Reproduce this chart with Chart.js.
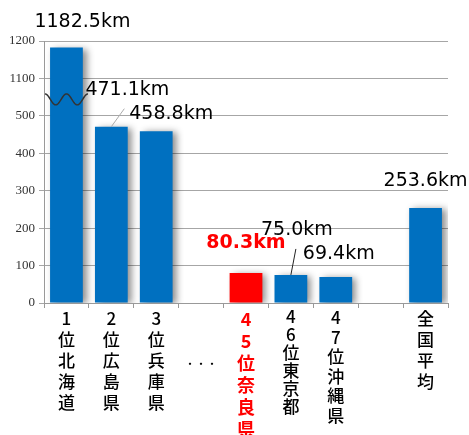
<!DOCTYPE html>
<html>
<head>
<meta charset="utf-8">
<script src="https://cdn.jsdelivr.net/npm/chart.js@4.4.1/dist/chart.umd.min.js"></script>
<style>
  html, body { margin: 0; padding: 0; background: #fff; }
  canvas { display: block; }
</style>
</head>
<body>
<canvas id="graphCanvas" width="469" height="435"></canvas>
<script>
// 順位と都道府県名 (空欄は省略部分と区切り)
var ranks = ['1位', '2位', '3位', '', '45位', '46位', '47位', '', ''];
var prefs = ['北海道', '広島県', '兵庫県', '', '奈良県', '東京都', '沖縄県', '', '全国平均'];
var distances = [1182.5, 471.1, 458.8, null, 80.3, 75.0, 69.4, null, 253.6];
var yTicks = [0, 100, 200, 300, 400, 500, 1100, 1200];
var gapMark = '・・・';
var gapIndex = 3;
var naraIndex = 4;

// 500〜1100 を省略した軸
function toAxis(v) {
    if (v === null) return null;
    return v > 600 ? v - 500 : v;
}

// 縦書き: 1文字ずつ改行
var labels = ranks.map(function (r, i) {
    if (i === gapIndex) return ['', '', '', gapMark];
    var s = r + prefs[i];
    return s ? s.split('') : '';
});

var BLUE = '#0070C0';
var RED = '#FF0000';
var colors = distances.map(function (v, i) { return i === naraIndex ? RED : BLUE; });

// ラベル位置 (棒の上端からのずれ)
var labelOffsets = {
    0: [16, -25], 1: [16, -37], 2: [15, -17],
    4: [0, -30], 5: [6, -45], 6: [3, -23], 8: [0, -27]
};
// 引き出し線
var leaders = {
    1: { from: [0, 0], to: [13, -18], color: '#aaa' },
    5: { from: [0, 0], to: [5, -26], color: '#222' }
};

var barShadow = {
    id: 'barShadow',
    beforeDatasetsDraw: function (chart) {
        var c = chart.ctx;
        c.save();
        c.shadowColor = 'rgba(0,0,0,0.45)';
        c.shadowBlur = 7;
        c.shadowOffsetX = 4;
        c.shadowOffsetY = 1;
    },
    afterDatasetsDraw: function (chart) {
        chart.ctx.restore();
    }
};

// 軸の省略記号 (波線)
var axisBreak = {
    id: 'axisBreak',
    afterDatasetsDraw: function (chart) {
        var c = chart.ctx;
        var y = chart.scales.y.getPixelForValue(544);
        var x0 = chart.chartArea.left + 1;
        var w = 43, amp = 5.5, period = 21.5;
        c.save();
        c.strokeStyle = '#333';
        c.lineWidth = 1.5;
        c.beginPath();
        for (var dx = 0; dx <= w; dx += 0.5) {
            var yy = y - amp * Math.cos(2 * Math.PI * dx / period);
            if (dx === 0) c.moveTo(x0 + dx, yy); else c.lineTo(x0 + dx, yy);
        }
        c.stroke();
        c.restore();
    }
};

var valueLabels = {
    id: 'valueLabels',
    afterDraw: function (chart) {
        var c = chart.ctx;
        var bars = chart.getDatasetMeta(0).data;
        c.save();
        c.textAlign = 'center';
        c.textBaseline = 'middle';
        distances.forEach(function (v, i) {
            if (v === null) return;
            var bar = bars[i];
            var off = labelOffsets[i];
            var ln = leaders[i];
            if (ln) {
                c.strokeStyle = ln.color;
                c.lineWidth = 1;
                c.beginPath();
                c.moveTo(bar.x + ln.from[0], bar.y + ln.from[1]);
                c.lineTo(bar.x + ln.to[0], bar.y + ln.to[1]);
                c.stroke();
            }
            if (i === naraIndex) {
                c.font = 'bold 19px "DejaVu Sans"';
                c.fillStyle = RED;
            } else {
                c.font = '19px "DejaVu Sans"';
                c.fillStyle = '#000';
            }
            c.fillText(v.toFixed(1) + 'km', bar.x + off[0], bar.y + off[1]);
        });
        c.restore();
    }
};

var lineHeights = { 4: 22, 5: 18, 6: 19.5 };

new Chart(document.getElementById('graphCanvas'), {
    type: 'bar',
    data: {
        labels: labels,
        datasets: [{
            data: distances.map(toAxis),
            backgroundColor: colors,
            barPercentage: 0.73,
            categoryPercentage: 1
        }]
    },
    options: {
        responsive: false,
        animation: false,
        layout: { padding: { top: 41, right: 21, left: 0, bottom: 0 } },
        plugins: {
            legend: { display: false },
            tooltip: { enabled: false }
        },
        scales: {
            x: {
                grid: { offset: true, drawOnChartArea: false, tickLength: 5, color: '#999' },
                border: { color: '#999' },
                ticks: {
                    autoSkip: false,
                    maxRotation: 0,
                    padding: 0,
                    color: function (ctx) { return ctx.index === naraIndex ? RED : '#000'; },
                    font: function (ctx) {
                        var i = ctx.index;
                        if (i === gapIndex) return { family: '"Noto Sans CJK JP"', size: 11, lineHeight: '16px' };
                        if (i === naraIndex) return { family: '"Noto Sans CJK JP"', size: 18, weight: 'bold', lineHeight: '22px' };
                        return { family: '"Noto Sans CJK JP"', size: 17, weight: '500', lineHeight: (lineHeights[i] || 21) + 'px' };
                    }
                },
                afterFit: function (s) { s.height = 132; }
            },
            y: {
                min: 0,
                max: 700,
                afterBuildTicks: function (s) {
                    s.ticks = yTicks.map(function (v) { return { value: toAxis(v) }; });
                },
                grid: { color: '#a6a6a6', tickLength: 5 },
                border: { color: '#999' },
                ticks: {
                    padding: 4,
                    color: '#333',
                    font: { family: '"Liberation Serif"', size: 13 },
                    callback: function (value, index) { return String(yTicks[index]); }
                },
                afterFit: function (s) { s.width = 44; }
            }
        }
    },
    plugins: [barShadow, axisBreak, valueLabels]
});
</script>
</body>
</html>
